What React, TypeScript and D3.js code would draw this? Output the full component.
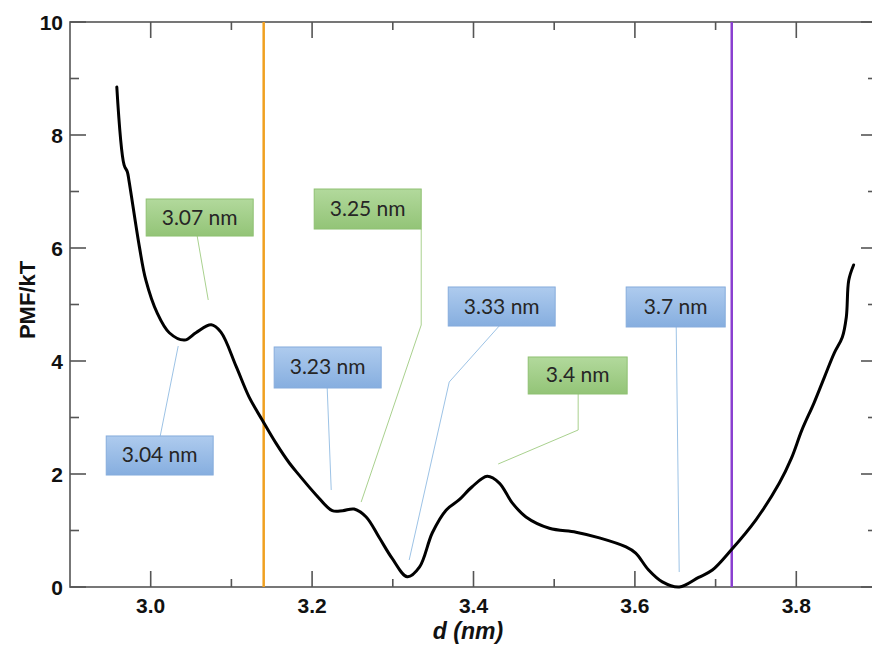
import React from "react";
import * as d3 from "d3";

const distance = [2.958, 2.967, 2.971, 2.973, 2.986, 2.994, 3.008, 3.023, 3.042, 3.056, 3.075, 3.087, 3.106, 3.122, 3.138, 3.155, 3.172, 3.184, 3.205, 3.225, 3.238, 3.252, 3.267, 3.283, 3.299, 3.318, 3.333, 3.349, 3.366, 3.382, 3.398, 3.417, 3.432, 3.448, 3.465, 3.494, 3.527, 3.556, 3.589, 3.601, 3.617, 3.634, 3.655, 3.679, 3.696, 3.719, 3.75, 3.779, 3.794, 3.807, 3.822, 3.835, 3.847, 3.857, 3.862, 3.865, 3.871];
const pmf = [8.85, 7.47, 7.35, 7.2, 6.02, 5.43, 4.85, 4.5, 4.37, 4.5, 4.64, 4.51, 3.9, 3.36, 2.96, 2.55, 2.19, 1.98, 1.63, 1.35, 1.35, 1.38, 1.24, 0.88, 0.51, 0.18, 0.35, 0.96, 1.36, 1.54, 1.77, 1.96, 1.84, 1.49, 1.24, 1.04, 0.97, 0.87, 0.71, 0.6, 0.3, 0.09, 0.0, 0.17, 0.3, 0.65, 1.19, 1.84, 2.28, 2.78, 3.26, 3.72, 4.14, 4.42, 4.78, 5.43, 5.7];

const xTicks = [3.0, 3.2, 3.4, 3.6, 3.8];
const xMinor = [3.1, 3.3, 3.5, 3.7];
const yTicks = [0, 2, 4, 6, 8, 10];
const yMinor = [1, 3, 5, 7, 9];

const vLines = [
  { d: 3.14, color: "#f0a020" },
  { d: 3.72, color: "#8a3fd0" },
];

// annotation boxes: [x0, x1, yTop, yBottom] in data units, leader points in data units
const labelText = ["3.07 nm", "3.04 nm", "3.25 nm", "3.23 nm", "3.33 nm", "3.4 nm", "3.7 nm"];
const labelKind = ["green", "blue", "green", "blue", "blue", "green", "blue"];
const labelBox = [
  [2.9944, 3.127, 6.867, 6.212],
  [2.9449, 3.0774, 2.673, 1.982],
  [3.2026, 3.3352, 7.044, 6.336],
  [3.153, 3.2856, 4.248, 3.522],
  [3.3687, 3.5012, 5.31, 4.619],
  [3.4678, 3.5904, 4.071, 3.416],
  [3.5892, 3.7119, 5.31, 4.602],
];
const labelLeader = [
  [[3.0576, 6.212], [3.0713, 5.08]],
  [[3.0118, 2.673], [3.0341, 4.265]],
  [[3.3352, 6.336], [3.3352, 4.637], [3.2608, 1.504]],
  [[3.2187, 3.522], [3.2237, 1.717]],
  [[3.4318, 4.619], [3.3699, 3.628], [3.3203, 0.478]],
  [[3.5297, 3.416], [3.5297, 2.779], [3.4306, 2.177]],
  [[3.6512, 4.602], [3.6549, 0.265]],
];

const W = 872;
const H = 647;
const left = 70;
const right = 877;
const top = 22;
const bottom = 587;

export default function App() {
  const x = d3.scaleLinear().domain([2.9, 3.9]).range([left, right]);
  const y = d3.scaleLinear().domain([0, 10]).range([bottom, top]);
  const pts: [number, number][] = distance.map((d, i) => [x(d), y(pmf[i])]);
  const line = d3.line().curve(d3.curveCatmullRom.alpha(0.5))(pts) || "";
  const axisColor = "#555";
  const font = "Liberation Sans, Arial, sans-serif";
  const styles: Record<string, { top: string; bot: string; stroke: string; lead: string }> = {
    green: { top: "#b2d99c", bot: "#93c477", stroke: "#8fc072", lead: "#a9d18e" },
    blue: { top: "#aecbee", bot: "#86aedf", stroke: "#86acdc", lead: "#9dc3e6" },
  };
  return (
    <svg width={W} height={H} style={{ position: "absolute", left: 0, top: 0 }} xmlns="http://www.w3.org/2000/svg">
      <defs>
        {Object.entries(styles).map(([k, s]) => (
          <linearGradient key={k} id={"g-" + k} x1="0" y1="0" x2="0" y2="1">
            <stop offset="0" stopColor={s.top} />
            <stop offset="1" stopColor={s.bot} />
          </linearGradient>
        ))}
      </defs>
      <rect x={0} y={0} width={W} height={H} fill="#fff" />
      <rect x={left} y={top} width={right - left} height={bottom - top} fill="none" stroke={axisColor} strokeWidth={1.6} />
      {xTicks.map((t) => (
        <g key={"xt" + t}>
          <line x1={x(t)} x2={x(t)} y1={bottom} y2={bottom - 16} stroke={axisColor} strokeWidth={1.6} />
          <line x1={x(t)} x2={x(t)} y1={top} y2={top + 16} stroke={axisColor} strokeWidth={1.6} />
          <text x={x(t)} y={613} textAnchor="middle" fontFamily={font} fontWeight="bold" fontSize={21} fill="#111">
            {t.toFixed(1)}
          </text>
        </g>
      ))}
      {xMinor.map((t) => (
        <g key={"xm" + t}>
          <line x1={x(t)} x2={x(t)} y1={bottom} y2={bottom - 8} stroke={axisColor} strokeWidth={1.6} />
          <line x1={x(t)} x2={x(t)} y1={top} y2={top + 8} stroke={axisColor} strokeWidth={1.6} />
        </g>
      ))}
      {yTicks.map((t) => (
        <g key={"yt" + t}>
          <line x1={left} x2={left + 16} y1={y(t)} y2={y(t)} stroke={axisColor} strokeWidth={1.6} />
          <line x1={right} x2={right - 16} y1={y(t)} y2={y(t)} stroke={axisColor} strokeWidth={1.6} />
          <text x={63} y={y(t) + 7.5} textAnchor="end" fontFamily={font} fontWeight="bold" fontSize={21} fill="#111">
            {t}
          </text>
        </g>
      ))}
      {yMinor.map((t) => (
        <g key={"ym" + t}>
          <line x1={left} x2={left + 9} y1={y(t)} y2={y(t)} stroke={axisColor} strokeWidth={1.6} />
          <line x1={right} x2={right - 9} y1={y(t)} y2={y(t)} stroke={axisColor} strokeWidth={1.6} />
        </g>
      ))}
      <text x={468} y={639} textAnchor="middle" fontFamily={font} fontWeight="bold" fontStyle="italic" fontSize={23} fill="#111">
        d (nm)
      </text>
      <text transform={`translate(35, ${300}) rotate(-90)`} textAnchor="middle" fontFamily={font} fontWeight="bold" fontSize={22} fill="#111">
        PMF/kT
      </text>
      {vLines.map((v) => (
        <line key={v.d} x1={x(v.d)} x2={x(v.d)} y1={top} y2={bottom} stroke={v.color} strokeWidth={2.5} />
      ))}
      {labelLeader.map((lp, i) => (
        <polyline
          key={"ld" + i}
          points={lp.map((p) => `${x(p[0])},${y(p[1])}`).join(" ")}
          fill="none"
          stroke={styles[labelKind[i]].lead}
          strokeWidth={1}
        />
      ))}
      <path d={line} fill="none" stroke="#000" strokeWidth={3} strokeLinejoin="round" strokeLinecap="round" />
      {labelBox.map((b, i) => {
        const x0 = x(b[0]);
        const x1 = x(b[1]);
        const y0 = y(b[2]);
        const y1 = y(b[3]);
        const s = styles[labelKind[i]];
        return (
          <g key={"bx" + i}>
            <rect x={x0} y={y0} width={x1 - x0} height={y1 - y0} fill={`url(#g-${labelKind[i]})`} stroke={s.stroke} strokeWidth={1} />
            <text x={(x0 + x1) / 2} y={(y0 + y1) / 2 + 7} textAnchor="middle" fontFamily="Lato, 'Open Sans', sans-serif" fontSize={21} fill="#262626">
              {labelText[i]}
            </text>
          </g>
        );
      })}
    </svg>
  );
}
